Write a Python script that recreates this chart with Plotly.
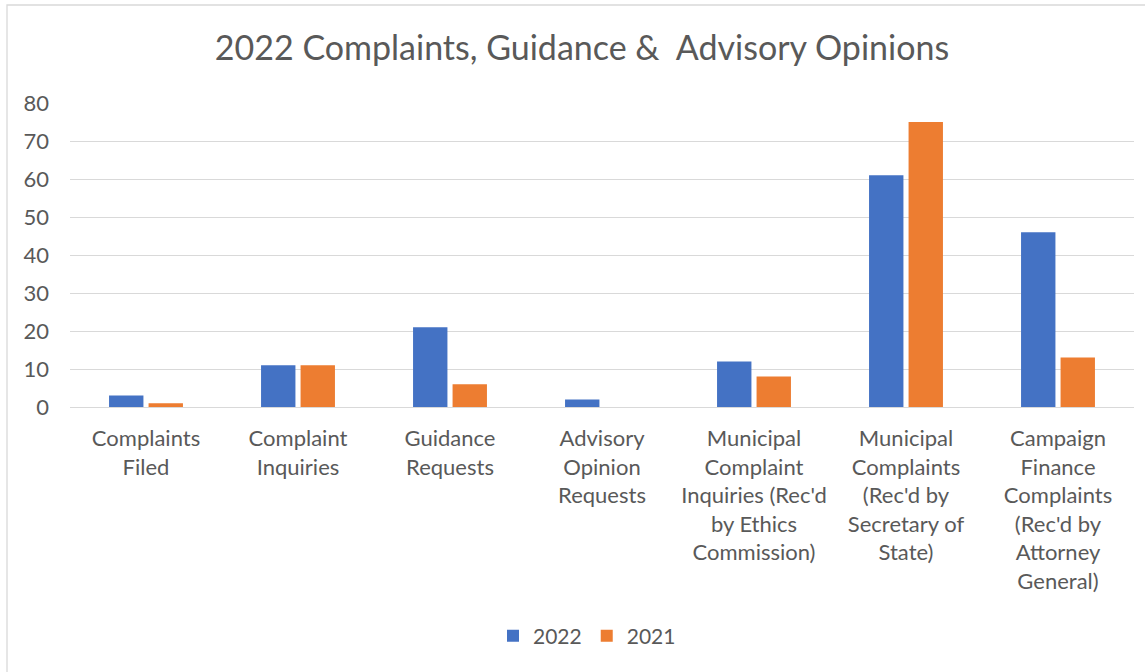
import plotly.graph_objects as go

categories = [
    "Complaints<br>Filed",
    "Complaint<br>Inquiries",
    "Guidance<br>Requests",
    "Advisory<br>Opinion<br>Requests",
    "Municipal<br>Complaint<br>Inquiries (Rec'd<br>by Ethics<br>Commission)",
    "Municipal<br>Complaints<br>(Rec'd by<br>Secretary of<br>State)",
    "Campaign<br>Finance<br>Complaints<br>(Rec'd by<br>Attorney<br>General)",
]
values_2022 = [3, 11, 21, 2, 12, 61, 46]
values_2021 = [1, 11, 6, 0, 8, 75, 13]
y_ticks = [0, 10, 20, 30, 40, 50, 60, 70, 80]

FONT = "Lato, Carlito, 'Open Sans', sans-serif"
TXT = "#595959"

fig = go.Figure()
fig.add_trace(go.Bar(name="2022", x=categories, y=values_2022, marker=dict(color="#4472C4", line=dict(width=0))))
fig.add_trace(go.Bar(name="2021", x=categories, y=values_2021, marker=dict(color="#ED7D31", line=dict(width=0))))

fig.update_layout(
    width=1145, height=672,
    margin=dict(l=70, r=11, t=103, b=265, autoexpand=False),
    paper_bgcolor="white", plot_bgcolor="white",
    barmode="group", bargap=0.48, bargroupgap=0.13,
    title=dict(text="2022 Complaints, Guidance &\u00a0 Advisory Opinions", x=582/1145, xanchor="center",
               y=1 - 48/672, yanchor="middle", font=dict(family=FONT, size=34, color=TXT)),
    font=dict(family=FONT, size=22, color=TXT),
    showlegend=True,
    legend=dict(orientation="h", x=(587-70)/1064, xanchor="center", y=-(636-407)/304, yanchor="middle",
                font=dict(size=21, color=TXT), itemwidth=30, itemsizing="constant", traceorder="normal",
                tracegroupgap=0),
    xaxis=dict(showgrid=False, showline=False, ticks="", tickfont=dict(size=22, color=TXT), tickangle=0,
               ticklabelstandoff=16),
    yaxis=dict(range=[0, 80], tickvals=y_ticks, showgrid=True, gridcolor="#D9D9D9", gridwidth=1.3,
               zeroline=True, zerolinecolor="#D9D9D9", zerolinewidth=1.3, ticks="",
               tickfont=dict(size=22, color=TXT), ticklabelstandoff=20),
    shapes=[dict(type="rect", xref="paper", yref="paper",
                 x0=-63/1064, x1=1.2, y0=-1.2, y1=402/304,
                 line=dict(color="#D9D9D9", width=1.3), fillcolor="rgba(0,0,0,0)", layer="below")],
)

fig.write_html("out.html", config={"displayModeBar": False},
               post_script="document.body.style.margin='0';document.body.style.padding='0';")
